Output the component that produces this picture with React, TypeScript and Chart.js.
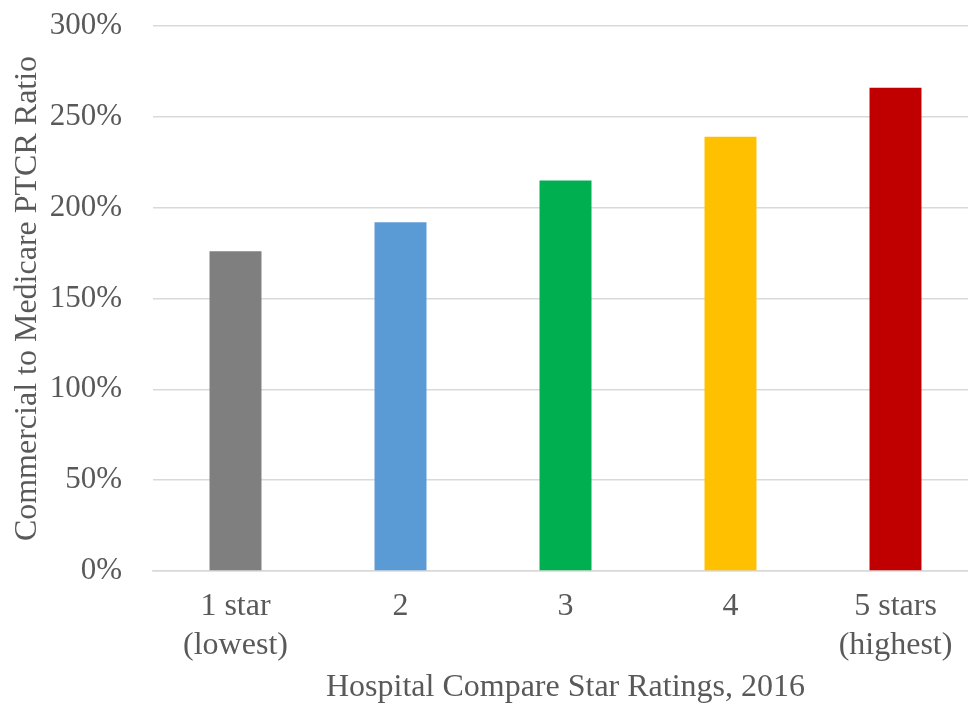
import React, { useEffect, useRef } from "react";
import { Chart, registerables } from "chart.js";

Chart.register(...registerables);

const categories: string[][] = [["1 star", "(lowest)"], ["2"], ["3"], ["4"], ["5 stars", "(highest)"]];
const ratioValues: number[] = [176, 192, 215, 239, 266];
const barColors: string[] = ["#7f7f7f", "#5b9bd5", "#00b050", "#ffc000", "#c00000"];
const yTickMin = 0;
const yTickMax = 300;
const yTickStep = 50;
const yTitle = "Commercial to Medicare PTCR Ratio";
const xTitle = "Hospital Compare Star Ratings, 2016";

export default function App() {
  const ref = useRef<HTMLCanvasElement | null>(null);
  useEffect(() => {
    document.documentElement.style.overflow = "hidden";
    document.body.style.overflow = "hidden";
    const font = "'Liberation Serif', 'Times New Roman', serif";
    const chart = new Chart(ref.current as HTMLCanvasElement, {
      type: "bar",
      data: {
        labels: categories,
        datasets: [
          {
            data: ratioValues,
            backgroundColor: barColors,
            borderWidth: 0,
            categoryPercentage: 1,
            barPercentage: 0.315,
          },
        ],
      },
      options: {
        animation: false,
        responsive: false,
        maintainAspectRatio: false,
        layout: { padding: { left: 12, top: 26, right: 2, bottom: 0 } },
        plugins: { legend: { display: false }, tooltip: { enabled: false } },
        scales: {
          x: {
            grid: { display: false, drawTicks: false },
            border: { display: true, color: "#d9d9d9", width: 1.5 },
            afterFit: (s: any) => { s.paddingLeft = 0; s.paddingRight = 0; s.height = 133; },
            ticks: {
              color: "#595959",
              font: { family: font, size: 32, lineHeight: 1.19 },
              padding: 17,
              maxRotation: 0,
              autoSkip: false,
            },
            title: {
              display: true,
              text: xTitle,
              color: "#595959",
              font: { family: font, size: 32, lineHeight: 1.0 },
              padding: { top: 0, bottom: 0 },
            },
          },
          y: {
            min: yTickMin,
            max: yTickMax,
            grid: { color: "#d9d9d9", lineWidth: 1.5, drawTicks: false },
            border: { display: false },
            afterFit: (s: any) => { s.paddingTop = 0; s.paddingBottom = 0; s.width = 141; },
            ticks: {
              stepSize: yTickStep,
              color: "#595959",
              font: { family: font, size: 31 },
              padding: 31,
              callback: (v: any) => v + "%",
            },
            title: {
              display: true,
              text: yTitle,
              color: "#595959",
              font: { family: font, size: 32, lineHeight: 1.0 },
              padding: { top: 0, bottom: 0 },
            },
          },
        },
      },
    });
    return () => chart.destroy();
  }, []);
  return (
    <div style={{ position: "fixed", left: 0, top: 0, width: 980, height: 704 }}>
      <canvas ref={ref} width={980} height={704} style={{ display: "block" }} />
    </div>
  );
}
